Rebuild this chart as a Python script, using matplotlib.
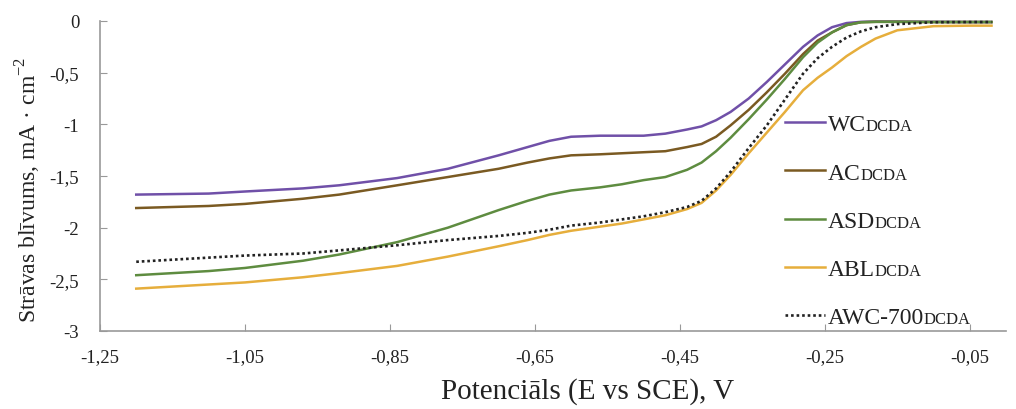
import matplotlib
matplotlib.use("Agg")
import matplotlib.pyplot as plt
from matplotlib.transforms import IdentityTransform

plt.rcParams['font.family'] = ['Liberation Serif', 'DejaVu Serif']
plt.rcParams['mathtext.fontset'] = 'custom'
plt.rcParams['mathtext.rm'] = 'Liberation Serif'

# --- data (potential in V vs SCE, current density in mA/cm2) ---
potential = [-1.20, -1.10, -1.05, -0.97, -0.92, -0.84, -0.77, -0.70, -0.66, -0.63,
             -0.60, -0.56, -0.53, -0.50, -0.47, -0.44, -0.42, -0.40, -0.38, -0.355,
             -0.33, -0.305, -0.28, -0.26, -0.24, -0.22, -0.20, -0.18, -0.15, -0.10,
             -0.05, -0.02]

wc = [-1.68, -1.67, -1.65, -1.62, -1.59, -1.52, -1.43, -1.30, -1.22, -1.16,
      -1.12, -1.11, -1.11, -1.11, -1.09, -1.05, -1.02, -0.96, -0.88, -0.75,
      -0.59, -0.42, -0.25, -0.14, -0.06, -0.02, -0.008, -0.005, -0.005, -0.008,
      -0.01, -0.01]
ac = [-1.81, -1.79, -1.77, -1.72, -1.68, -1.59, -1.51, -1.43, -1.37, -1.33,
      -1.30, -1.29, -1.28, -1.27, -1.26, -1.22, -1.19, -1.12, -1.01, -0.86,
      -0.69, -0.51, -0.32, -0.19, -0.11, -0.04, -0.012, -0.008, -0.008, -0.01,
      -0.01, -0.01]
asd = [-2.46, -2.42, -2.39, -2.32, -2.26, -2.14, -2.00, -1.83, -1.74, -1.68,
       -1.64, -1.61, -1.58, -1.54, -1.51, -1.44, -1.37, -1.26, -1.13, -0.95,
       -0.76, -0.56, -0.35, -0.21, -0.11, -0.04, -0.012, -0.008, -0.008, -0.01,
       -0.01, -0.01]
abl = [-2.59, -2.55, -2.53, -2.48, -2.44, -2.37, -2.28, -2.18, -2.12, -2.07,
       -2.03, -1.99, -1.96, -1.92, -1.88, -1.82, -1.76, -1.64, -1.49, -1.28,
       -1.08, -0.88, -0.67, -0.55, -0.45, -0.34, -0.25, -0.17, -0.09, -0.05,
       -0.045, -0.045]
awc700 = [-2.33, -2.29, -2.27, -2.25, -2.22, -2.17, -2.12, -2.08, -2.05, -2.02,
          -1.98, -1.95, -1.92, -1.89, -1.85, -1.80, -1.74, -1.62, -1.46, -1.23,
          -1.01, -0.76, -0.51, -0.36, -0.25, -0.16, -0.10, -0.06, -0.03, -0.012,
          -0.01, -0.01]

names = ['WC', 'AC', 'ASD', 'ABL', 'AWC-700']
suffix = 'DCDA'

xticks = [-1.25, -1.05, -0.85, -0.65, -0.45, -0.25, -0.05]
xtick_labels = ['-1,25', '-1,05', '-0,85', '-0,65', '-0,45', '-0,25', '-0,05']
yticks = [0, -0.5, -1, -1.5, -2, -2.5, -3]
ytick_labels = ['0', '-0,5', '-1', '-1,5', '-2', '-2,5', '-3']

# --- plotting ---
fig = plt.figure(figsize=(10.16, 4.10), dpi=100)
ax = fig.add_axes([100 / 1016, 1 - 332 / 410, 906 / 1016, 310 / 410])

lw = 1.8
ax.plot(potential, wc, color='#7050a8', lw=lw, label=names[0], clip_on=False)
ax.plot(potential, ac, color='#7a5a22', lw=lw, label=names[1], clip_on=False)
ax.plot(potential, asd, color='#5e8c40', lw=lw, label=names[2], clip_on=False)
ax.plot(potential, abl, color='#e6ae3c', lw=lw, label=names[3], clip_on=False)
ax.plot(potential, awc700, color='#222222', lw=1.9, ls=(0, (1, 1.1)),
        label=names[4], clip_on=False)

ax.set_xlim(-1.25, 0)
ax.set_ylim(-3, 0)
ax.set_xticks(xticks, xtick_labels)
ax.set_yticks(yticks, ytick_labels)
ax.tick_params(axis='both', direction='in', length=5, color='#999999',
               labelsize=13.5, labelcolor='#222222')
ax.tick_params(axis='y', pad=15)
ax.tick_params(axis='x', pad=12)

for s in ['top', 'right']:
    ax.spines[s].set_visible(False)
for s in ['left', 'bottom']:
    ax.spines[s].set_color('#999999')
    ax.spines[s].set_linewidth(1.2)

ax.set_xlabel('Potenciāls (E vs SCE), V', fontsize=21, color='#222222')
ax.xaxis.set_label_coords(488 / 906, -46 / 310)
ax.set_ylabel('Strāvas blīvums, mA · cm$^{\\mathrm{-2}}$', fontsize=17, color='#222222')
ax.yaxis.set_label_coords(-57 / 906, 0.458)

leg = ax.legend(loc='center left', bbox_to_anchor=(785 / 1016, 1 - 222 / 410),
                bbox_transform=fig.transFigure, frameon=False, fontsize=17,
                borderpad=0, borderaxespad=0, handlelength=1.7,
                handletextpad=0.1, labelspacing=1.13)
for t in leg.get_texts():
    t.set_color('#222222')

# small-caps style suffix after each legend label
fig.canvas.draw()
renderer = fig.canvas.get_renderer()
for t in leg.get_texts():
    bb = t.get_window_extent(renderer)
    x0, y0 = t.get_transform().transform(t.get_position())
    fig.text(bb.x1, y0, suffix, fontsize=12, va='baseline', ha='left',
             transform=IdentityTransform(), color='#222222')

fig.savefig('out.png', dpi=100)
